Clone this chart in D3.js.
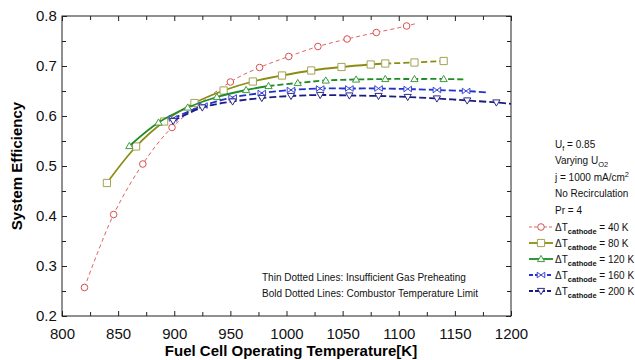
<!DOCTYPE html>
<html>
<head>
<meta charset="utf-8">
<script src="https://cdn.jsdelivr.net/npm/d3@7"></script>
<style>
  body { margin: 0; background: #fff; }
  svg { font-family: "Liberation Sans", Arial, sans-serif; }
</style>
</head>
<body>
<div id="chart"></div>
<script>
// values
const xTicks = [800, 850, 900, 950, 1000, 1050, 1100, 1150, 1200];
const yTicks = [0.2, 0.3, 0.4, 0.5, 0.6, 0.7, 0.8];

const temp40 = [820, 846, 872, 898, 950, 976, 1002, 1028, 1054, 1080, 1107];
const eff40 = [0.257, 0.403, 0.504, 0.577, 0.668, 0.697, 0.719, 0.739, 0.754, 0.767, 0.780];
const tail40 = [1117, 0.786];

const temp80 = [840, 866, 891, 918, 944, 970, 996, 1022, 1049, 1075, 1088, 1114, 1140];
const eff80 = [0.466, 0.539, 0.589, 0.626, 0.651, 0.669, 0.681, 0.691, 0.698, 0.703, 0.705, 0.707, 0.710];
const solidEnd80 = 1088;

const temp120 = [860, 886, 912, 938, 964, 984, 1010, 1035, 1062, 1088, 1114, 1140];
const eff120 = [0.540, 0.587, 0.617, 0.638, 0.652, 0.660, 0.666, 0.671, 0.673, 0.674, 0.674, 0.674];
const tail120 = [1160, 0.673];
const solidEnd120 = 984;

const temp160 = [899, 926, 952, 978, 1004, 1030, 1056, 1082, 1108, 1134, 1160];
const eff160 = [0.595, 0.621, 0.637, 0.646, 0.652, 0.655, 0.655, 0.655, 0.654, 0.652, 0.650];
const tail160 = [1180, 0.647];

const temp200 = [899, 925, 952, 978, 1004, 1030, 1056, 1082, 1108, 1134, 1161, 1187];
const eff200 = [0.590, 0.617, 0.629, 0.636, 0.640, 0.642, 0.641, 0.640, 0.638, 0.635, 0.631, 0.627];
const tail200 = [1205, 0.623];

const infoLines = [
  ["U", "f", " = 0.85", "sub"],
  ["Varying U", "O2", "", "sub"],
  ["j = 1000 mA/cm", "2", "", "sup"],
  ["No Recirculation", "", "", ""],
  ["Pr = 4", "", "", ""]
];
const legendLabels = ["40 K", "80 K", "120 K", "160 K", "200 K"];

const width = 635, height = 360;
const margin = {left: 62, right: 124, top: 16, bottom: 44};

const svg = d3.select('#chart').append('svg')
  .attr('width', width).attr('height', height);

const x = d3.scaleLinear().domain([800, 1200]).range([margin.left, width - margin.right]);
const y = d3.scaleLinear().domain([0.2, 0.8]).range([height - margin.bottom, margin.top]);

svg.append('defs').append('clipPath').attr('id', 'plot')
  .append('rect')
  .attr('x', x(800)).attr('y', y(0.8))
  .attr('width', x(1200) - x(800)).attr('height', y(0.2) - y(0.8));

// axes with inward ticks on all four sides
const minorX = d3.range(825, 1200, 50);
const minorY = d3.range(0.25, 0.8, 0.1);

function addAxis(axisFn, scale, pos, values, len, labels) {
  const a = axisFn(scale).tickValues(values).tickSizeInner(-len).tickSizeOuter(0);
  if (labels) a.tickFormat(labels).tickPadding(9);
  else a.tickFormat('');
  const g = svg.append('g').attr('transform', pos).call(a);
  g.selectAll('.domain').remove();
  g.selectAll('line').attr('stroke', '#222');
  g.selectAll('text').attr('font-size', 15).attr('fill', '#111');
  return g;
}
const posBottom = `translate(0,${y(0.2)})`, posTop = `translate(0,${y(0.8)})`;
const posLeft = `translate(${x(800)},0)`, posRight = `translate(${x(1200)},0)`;

addAxis(d3.axisBottom, x, posBottom, xTicks, 5, d3.format('d'))
  .selectAll('text').attr('dy', '0.9em');
addAxis(d3.axisBottom, x, posBottom, minorX, 4, null);
addAxis(d3.axisTop, x, posTop, xTicks, 5, null);
addAxis(d3.axisTop, x, posTop, minorX, 4, null);
addAxis(d3.axisLeft, y, posLeft, yTicks, 5, d3.format('.1f'))
  .selectAll('text').attr('dx', '0.25em');
addAxis(d3.axisLeft, y, posLeft, minorY, 4, null);
addAxis(d3.axisRight, y, posRight, yTicks, 5, null);
addAxis(d3.axisRight, y, posRight, minorY, 4, null);

svg.append('rect')
  .attr('x', x(800)).attr('y', y(0.8))
  .attr('width', x(1200) - x(800)).attr('height', y(0.2) - y(0.8))
  .attr('fill', 'none').attr('stroke', '#222').attr('stroke-width', 1);

// axis titles
svg.append('text')
  .attr('x', 291).attr('y', 356)
  .attr('text-anchor', 'middle')
  .attr('font-size', 15).attr('font-weight', 'bold')
  .text('Fuel Cell Operating Temperature[K]');
svg.append('text')
  .attr('transform', `translate(22,${(y(0.2) + y(0.8)) / 2}) rotate(-90)`)
  .attr('text-anchor', 'middle')
  .attr('font-size', 15).attr('font-weight', 'bold')
  .text('System Efficiency');

// series
const zip = (t, e) => t.map((d, i) => [d, e[i]]);
const series = [
  {pts: zip(temp40, eff40), tail: tail40, solidEnd: null, color: '#e06464', mcolor: '#d94f4f',
    width: 1, dash: '4,3', marker: 'circle'},
  {pts: zip(temp80, eff80), tail: null, solidEnd: solidEnd80, color: '#8c8c12', mcolor: '#a3a352',
    width: 1.8, dash: '6,3', marker: 'square'},
  {pts: zip(temp120, eff120), tail: tail120, solidEnd: solidEnd120, color: '#1f8c24', mcolor: '#3c9e3c',
    width: 1.8, dash: '6,3', marker: 'up'},
  {pts: zip(temp160, eff160), tail: tail160, solidEnd: null, color: '#2331cc', mcolor: '#3a46d6',
    width: 1.8, dash: '7,3', marker: 'bowtie'},
  {pts: zip(temp200, eff200), tail: tail200, solidEnd: null, color: '#1c1c80', mcolor: '#2a2a8a',
    width: 1.8, dash: '7,3', marker: 'down'}
];

const line = d3.line().x(d => x(d[0])).y(d => y(d[1])).curve(d3.curveCatmullRom);
const plot = svg.append('g').attr('clip-path', 'url(#plot)');

const markerPath = {
  circle: 'M3.3,0A3.3,3.3 0 1,1 -3.3,0A3.3,3.3 0 1,1 3.3,0Z',
  square: 'M-3.6,-3.6H3.6V3.6H-3.6Z',
  up: 'M0,-3.6L3.6,2.6L-3.6,2.6Z',
  down: 'M0,3.6L3.6,-2.6L-3.6,-2.6Z',
  bowtie: 'M-3.8,-2.8L3.8,2.8L3.8,-2.8L-3.8,2.8Z'
};

series.forEach(s => {
  const all = s.tail ? s.pts.concat([s.tail]) : s.pts;
  if (s.solidEnd != null) {
    const solid = all.filter(d => d[0] <= s.solidEnd);
    const dashed = all.filter(d => d[0] >= s.solidEnd);
    plot.append('path').attr('d', line(solid)).attr('fill', 'none')
      .attr('stroke', s.color).attr('stroke-width', s.width);
    plot.append('path').attr('d', line(dashed)).attr('fill', 'none')
      .attr('stroke', s.color).attr('stroke-width', s.width).attr('stroke-dasharray', s.dash);
  } else {
    plot.append('path').attr('d', line(all)).attr('fill', 'none')
      .attr('stroke', s.color).attr('stroke-width', s.width).attr('stroke-dasharray', s.dash);
  }
  plot.append('g').selectAll('path')
    .data(s.pts).enter().append('path')
    .attr('transform', d => `translate(${x(d[0])},${y(d[1])})`)
    .attr('d', markerPath[s.marker])
    .attr('fill', '#fff').attr('stroke', s.mcolor).attr('stroke-width', 1);
});

// notes inside the plot
svg.append('text').attr('x', 262).attr('y', 280.5).attr('font-size', 10).attr('fill', '#111')
  .text('Thin Dotted Lines: Insufficient Gas Preheating');
svg.append('text').attr('x', 262).attr('y', 296.5).attr('font-size', 10).attr('fill', '#111')
  .text('Bold Dotted Lines: Combustor Temperature Limit');

// conditions text
const info = svg.append('g').attr('font-size', 10).attr('fill', '#111');
infoLines.forEach((l, i) => {
  const t = info.append('text').attr('x', 555).attr('y', 147.5 + i * 16.5);
  t.append('tspan').text(l[0]);
  if (l[1]) {
    t.append('tspan').attr('font-size', 7.5)
      .attr('dy', l[3] === 'sub' ? 3 : -4).text(l[1]);
    if (l[2]) t.append('tspan').attr('dy', l[3] === 'sub' ? -3 : 4).text(l[2]);
  }
});

// legend
const legend = svg.append('g');
series.forEach((s, i) => {
  const cy = 227 + i * 16;
  const g = legend.append('g');
  g.append('line').attr('x1', 529).attr('x2', 553).attr('y1', cy).attr('y2', cy)
    .attr('stroke', s.color).attr('stroke-width', s.width)
    .attr('stroke-dasharray', s.solidEnd != null ? null : (i === 0 ? '3,2' : '4,2'));
  g.append('path').attr('transform', `translate(541,${cy})`)
    .attr('d', markerPath[s.marker])
    .attr('fill', '#fff').attr('stroke', s.mcolor).attr('stroke-width', 1);
  const t = g.append('text').attr('x', 555).attr('y', cy + 3.5)
    .attr('font-size', 10).attr('fill', '#111');
  t.append('tspan').text('\u0394T');
  t.append('tspan').attr('font-size', 7.5).attr('font-weight', 'bold').attr('dy', 3).text('cathode');
  t.append('tspan').attr('dy', -3).text(' = ' + legendLabels[i]);
});
</script>
</body>
</html>
